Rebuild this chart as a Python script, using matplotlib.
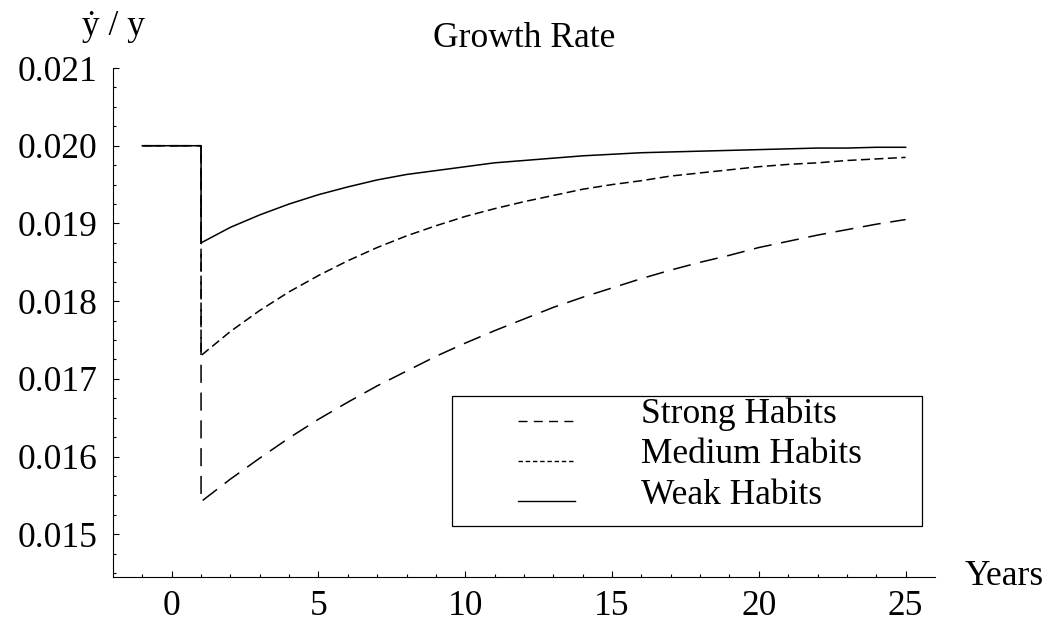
import numpy as np
import matplotlib
matplotlib.use("Agg")
import matplotlib.pyplot as plt
from matplotlib.lines import Line2D
from matplotlib.patches import Rectangle
from matplotlib.ticker import FixedLocator, MultipleLocator, FormatStrFormatter
from matplotlib.legend_handler import HandlerLine2D

plt.rcParams.update({
    "font.family": ["Liberation Serif", "DejaVu Serif"],
    "font.size": 25.5,
    "lines.scale_dashes": False,
})

# ── Data ─────────────────────────────────────────────────────────────────────
years_pre = [-1, 1]
g_pre = 0.020
years = list(range(1, 26))
strong = [0.01542, 0.01571, 0.01598, 0.01624, 0.01648, 0.01670, 0.01691, 0.01710,
          0.01729, 0.01746, 0.01762, 0.01777, 0.01792, 0.01805, 0.01817, 0.01829,
          0.01840, 0.01850, 0.01859, 0.01869, 0.01877, 0.01885, 0.01892, 0.01899,
          0.01905]
medium = [0.01730, 0.01761, 0.01788, 0.01812, 0.01833, 0.01852, 0.01869, 0.01884,
          0.01897, 0.01909, 0.01919, 0.01928, 0.01936, 0.01944, 0.01950, 0.01955,
          0.01961, 0.01965, 0.01969, 0.01973, 0.01976, 0.01978, 0.01981, 0.01983,
          0.01985]
weak = [0.01875, 0.01895, 0.01911, 0.01925, 0.01937, 0.01947, 0.01956, 0.01963,
        0.01968, 0.01973, 0.01978, 0.01981, 0.01984, 0.01987, 0.01989, 0.01991,
        0.01992, 0.01993, 0.01994, 0.01995, 0.01996, 0.01997, 0.01997, 0.01998,
        0.01998]
labels = ["Strong Habits", "Medium Habits", "Weak Habits"]


# legend lines sit close to the text baseline, as in the original
class LowLine(HandlerLine2D):
    def create_artists(self, legend, orig_handle, xdescent, ydescent,
                       width, height, fontsize, trans):
        arts = super().create_artists(legend, orig_handle, xdescent, ydescent,
                                      width, height, fontsize, trans)
        for a in arts:
            a.set_ydata(np.asarray(a.get_ydata()) - 0.27 * fontsize)
        return arts


# ── Figure ───────────────────────────────────────────────────────────────────
fig = plt.figure(figsize=(10.51, 6.24), dpi=100)
ax = fig.add_axes([0.1075, 0.0753, 0.7821, 0.8157])

x_all = years_pre + years
lw = 1.1
ax.plot(x_all, [g_pre, g_pre] + strong, color="black", lw=lw, dashes=(13, 7))
ax.plot(x_all, [g_pre, g_pre] + medium, color="black", lw=lw, dashes=(6.5, 3.2))
ax.plot(x_all, [g_pre, g_pre] + weak, color="black", lw=lw)

ax.set_xlim(-2, 26)
ax.set_ylim(0.01445, 0.021)

for side in ["top", "right"]:
    ax.spines[side].set_visible(False)
for side in ["left", "bottom"]:
    ax.spines[side].set_linewidth(0.8)

ax.xaxis.set_major_locator(FixedLocator([0, 5, 10, 15, 20, 25]))
ax.xaxis.set_minor_locator(FixedLocator([v for v in range(-1, 26) if v % 5 != 0]))
ax.yaxis.set_major_locator(MultipleLocator(0.001))
ax.yaxis.set_minor_locator(MultipleLocator(0.00025))
ax.yaxis.set_major_formatter(FormatStrFormatter("%.3f"))

ax.tick_params(which="both", direction="in", width=0.8)
ax.tick_params(which="major", length=4.3)
ax.tick_params(which="minor", length=2.2)
ax.tick_params(axis="y", which="major", pad=11)
ax.tick_params(axis="x", which="major", pad=9)

ax.set_title("Growth Rate", pad=15, fontsize=25.5)
ax.text(0.0, 1.065, "ẏ / y", transform=ax.transAxes, ha="center", va="baseline")
ax.text(1.0365, -0.016, "Years", transform=ax.transAxes, ha="left", va="baseline")

# ── Legend (frame drawn separately to match the reference box) ───────────────
handles = [
    Line2D([], [], color="black", lw=1.0, dashes=(6.5, 4.5)),
    Line2D([], [], color="black", lw=1.0, dashes=(3.2, 2.0)),
    Line2D([], [], color="black", lw=1.0),
]
ax.legend(handles, labels, loc="upper left", bbox_to_anchor=(0.4927, 0.352),
          frameon=False, borderpad=0, borderaxespad=0, handlelength=1.62,
          handletextpad=1.84, labelspacing=0.2,
          handler_map={Line2D: LowLine()})
ax.add_patch(Rectangle((0.4124, 0.1002), 0.5718, 0.2554, transform=ax.transAxes,
                       fill=False, edgecolor="black", lw=0.9, zorder=5))

fig.savefig("out.png", dpi=100)
